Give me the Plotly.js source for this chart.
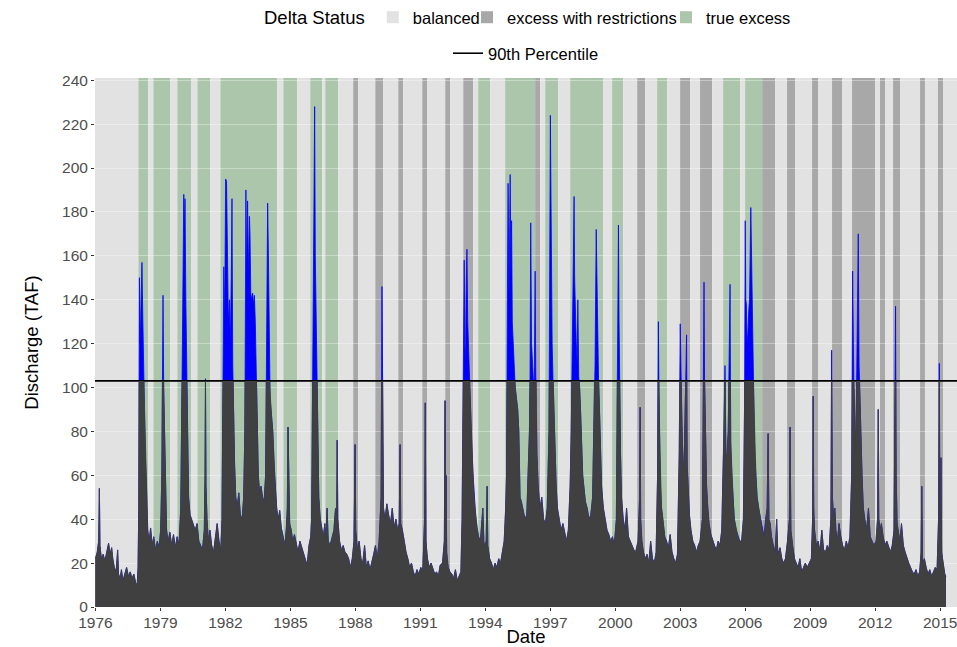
<!DOCTYPE html>
<html><head><meta charset="utf-8">
<script src="https://cdn.plot.ly/plotly-3.0.1.min.js"></script>
<style>html,body{margin:0;padding:0;background:#fff}</style>
</head><body><div id="chart" style="width:957px;height:647px"></div>
<script>
// ---- data ----
const statusNames = ['balanced', 'excess with restrictions', 'true excess'];
const statusColors = ['#e2e2e2', '#a8a8a8', '#abc6ab'];
const xStart = '1975-12-25';
const xEnd = '2015-10-12';
const pct90 = 103;
const yMax = 241;
const bandStart = ['1975-12-25','1977-12-25','1978-06-12','1978-09-05','1979-06-18','1979-10-13','1980-06-07','1980-09-16','1981-04-22','1981-10-08','1984-05-26','1984-09-04','1985-04-27','1985-12-02','1986-06-23','1986-08-12','1987-03-18','1987-11-26','1988-02-19','1988-12-03','1989-04-16','1989-12-25','1990-03-19','1991-02-03','1991-04-28','1992-02-25','1992-05-19','1992-12-25','1993-06-10','1993-09-03','1994-03-24','1994-12-01','1996-04-20','1996-07-15','1996-10-07','1997-05-15','1997-12-02','1999-06-10','1999-11-09','2000-05-14','2001-01-05','2001-05-18','2001-12-07','2002-05-25','2002-12-30','2003-06-17','2003-12-01','2004-06-22','2004-12-24','2005-10-07','2005-12-30','2006-10-13','2007-05-19','2007-12-07','2008-04-20','2009-02-01','2009-05-12','2010-01-04','2010-06-21','2010-12-07','2011-12-30','2012-03-23','2012-06-16','2012-10-29','2013-02-23','2014-01-27','2014-04-20','2014-11-25','2015-02-18'];
const bandStatus = ['balanced','true excess','balanced','true excess','balanced','true excess','balanced','true excess','balanced','true excess','balanced','true excess','balanced','true excess','balanced','true excess','balanced','excess with restrictions','balanced','excess with restrictions','balanced','excess with restrictions','balanced','excess with restrictions','balanced','excess with restrictions','balanced','excess with restrictions','balanced','true excess','balanced','true excess','excess with restrictions','balanced','true excess','balanced','true excess','balanced','true excess','balanced','excess with restrictions','balanced','true excess','balanced','excess with restrictions','balanced','excess with restrictions','balanced','true excess','balanced','true excess','excess with restrictions','balanced','excess with restrictions','balanced','excess with restrictions','balanced','excess with restrictions','balanced','excess with restrictions','balanced','excess with restrictions','balanced','excess with restrictions','balanced','excess with restrictions','balanced','excess with restrictions','balanced'];
// discharge readings (date, TAF)
const flowRecords = [
['1976-01-01',22],['1976-02-01',25],['1976-02-25',30],['1976-03-08',54],['1976-03-18',28],['1976-04-10',22],['1976-05-10',24],['1976-06-10',21],['1976-07-10',25],['1976-08-10',29],['1976-09-05',24],['1976-10-01',27],['1976-10-20',22],['1976-11-15',18],['1976-12-15',16],
['1977-01-10',26],['1977-01-25',15],['1977-02-20',13],['1977-03-15',17],['1977-04-10',12],['1977-05-10',15],['1977-06-10',18],['1977-07-10',14],['1977-08-10',16],['1977-09-10',13],['1977-10-10',15],['1977-11-10',11],['1977-12-05',10],['1977-12-20',18],
['1978-01-01',45],['1978-01-12',150],['1978-01-25',120],['1978-02-08',138],['1978-02-24',157],['1978-03-08',135],['1978-03-20',110],['1978-04-05',95],['1978-04-20',70],['1978-05-10',55],['1978-06-01',35],['1978-06-25',30],['1978-07-20',36],['1978-08-15',28],['1978-09-10',32],['1978-10-10',26],['1978-11-10',30],['1978-12-10',27],
['1979-01-05',35],['1979-01-25',60],['1979-02-05',90],['1979-02-14',142],['1979-02-25',100],['1979-03-10',80],['1979-03-25',60],['1979-04-15',35],['1979-05-10',30],['1979-06-10',34],['1979-07-10',28],['1979-08-10',33],['1979-09-10',27],['1979-10-10',32],['1979-11-10',28],['1979-12-10',45],
['1980-01-01',104],['1980-01-15',140],['1980-01-30',188],['1980-02-10',170],['1980-02-20',186],['1980-03-05',140],['1980-03-20',105],['1980-04-05',75],['1980-04-20',50],['1980-05-15',42],['1980-06-10',40],['1980-07-10',38],['1980-08-10',35],['1980-09-10',38],['1980-10-10',30],['1980-11-10',28],['1980-12-10',26],
['1981-01-10',35],['1981-01-22',60],['1981-01-30',104],['1981-02-08',55],['1981-02-25',40],['1981-03-20',30],['1981-04-15',35],['1981-05-15',28],['1981-06-15',25],['1981-07-15',32],['1981-08-15',38],['1981-09-15',30],['1981-10-15',26],['1981-11-05',40],
['1981-11-25',104],['1981-12-05',155],['1981-12-20',130],['1982-01-05',195],['1982-01-20',194],['1982-02-05',150],['1982-02-20',130],['1982-03-10',140],['1982-03-25',120],['1982-04-10',150],['1982-04-22',186],['1982-05-05',110],['1982-05-20',85],['1982-06-05',65],['1982-06-25',50],['1982-07-20',46],['1982-08-15',52],['1982-09-10',42],['1982-10-10',40],['1982-11-05',50],['1982-11-25',80],
['1982-12-05',120],['1982-12-13',190],['1982-12-25',150],['1983-01-10',185],['1983-01-25',150],['1983-02-10',178],['1983-02-20',170],['1983-03-05',143],['1983-03-20',140],['1983-04-05',143],['1983-04-20',138],['1983-05-05',142],['1983-05-20',130],['1983-06-10',104],['1983-06-25',80],['1983-07-10',60],['1983-08-01',52],['1983-08-25',55],['1983-09-20',50],['1983-10-15',48],['1983-11-10',60],['1983-12-01',120],['1983-12-08',170],['1983-12-14',184],['1983-12-25',165],
['1984-01-10',105],['1984-01-25',95],['1984-02-15',88],['1984-03-10',80],['1984-04-01',65],['1984-04-20',55],['1984-05-15',45],['1984-06-10',40],['1984-07-05',44],['1984-08-01',36],['1984-09-01',32],['1984-10-01',28],['1984-10-25',36],['1984-11-10',45],['1984-11-22',82],['1984-12-05',45],['1984-12-20',38],
['1985-01-15',35],['1985-02-10',30],['1985-03-10',33],['1985-04-10',28],['1985-05-10',25],['1985-06-10',30],['1985-07-10',27],['1985-08-10',24],['1985-09-10',22],['1985-10-10',19],['1985-11-10',28],['1985-12-10',32],['1985-12-25',40],
['1986-01-05',80],['1986-01-20',105],['1986-02-01',150],['1986-02-08',193],['1986-02-14',228],['1986-02-25',160],['1986-03-10',130],['1986-03-25',104],['1986-04-10',70],['1986-04-25',50],['1986-05-20',40],['1986-06-15',35],['1986-07-10',32],['1986-08-05',38],['1986-08-25',30],['1986-09-12',45],['1986-10-01',30],['1986-11-01',28],['1986-12-01',32],
['1987-01-05',35],['1987-02-01',45],['1987-02-20',40],['1987-03-01',76],['1987-03-12',40],['1987-04-10',30],['1987-05-10',26],['1987-06-10',28],['1987-07-10',25],['1987-08-10',24],['1987-09-10',22],['1987-10-10',18],['1987-11-10',22],['1987-12-10',30],['1987-12-28',74],
['1988-01-08',35],['1988-02-05',26],['1988-03-05',30],['1988-04-05',22],['1988-05-05',20],['1988-06-05',28],['1988-07-05',18],['1988-08-05',21],['1988-09-05',17],['1988-10-05',20],['1988-11-05',24],['1988-12-05',28],
['1989-01-05',22],['1989-02-05',30],['1989-03-10',50],['1989-03-25',146],['1989-04-05',70],['1989-04-20',45],['1989-05-15',40],['1989-06-15',47],['1989-07-15',42],['1989-08-15',38],['1989-09-15',45],['1989-10-15',36],['1989-11-15',40],['1989-12-15',35],
['1990-01-10',38],['1990-01-25',74],['1990-02-05',38],['1990-03-05',35],['1990-04-05',30],['1990-05-05',25],['1990-06-05',22],['1990-07-05',18],['1990-08-05',20],['1990-09-05',16],['1990-10-05',14],['1990-11-05',17],['1990-12-05',15],
['1991-01-10',18],['1991-02-10',16],['1991-03-15',40],['1991-03-25',93],['1991-04-05',30],['1991-05-01',22],['1991-06-01',18],['1991-07-01',20],['1991-08-01',17],['1991-09-01',15],['1991-10-01',16],['1991-11-01',14],['1991-12-01',19],
['1992-01-10',20],['1992-02-10',30],['1992-02-22',94],['1992-03-01',40],['1992-03-10',60],['1992-03-20',25],['1992-04-15',18],['1992-05-15',16],['1992-06-15',15],['1992-07-15',13],['1992-08-15',17],['1992-09-15',12],['1992-10-15',14],['1992-11-15',16],['1992-12-05',40],
['1992-12-20',104],['1993-01-10',158],['1993-01-20',120],['1993-02-01',110],['1993-02-10',140],['1993-02-25',163],['1993-03-10',130],['1993-03-25',115],['1993-04-10',104],['1993-04-25',90],['1993-05-15',75],['1993-06-05',62],['1993-06-25',50],['1993-07-20',42],['1993-08-15',36],['1993-09-10',32],['1993-10-10',30],['1993-11-01',38],['1993-11-20',45],['1993-12-10',28],
['1994-01-15',30],['1994-02-01',55],['1994-02-12',28],['1994-03-15',22],['1994-04-15',20],['1994-05-15',17],['1994-06-15',20],['1994-07-15',18],['1994-08-15',22],['1994-09-15',20],['1994-10-15',25],['1994-11-15',30],['1994-12-10',45],['1994-12-25',60],
['1995-01-10',150],['1995-01-20',193],['1995-02-05',140],['1995-02-24',197],['1995-03-10',150],['1995-03-20',176],['1995-04-01',130],['1995-04-15',120],['1995-05-01',105],['1995-05-20',100],['1995-06-10',95],['1995-07-01',90],['1995-07-20',80],['1995-08-10',50],['1995-09-01',48],['1995-10-01',44],['1995-11-01',40],['1995-12-01',42],['1995-12-20',55],
['1996-01-15',80],['1996-01-25',104],['1996-02-06',175],['1996-02-20',120],['1996-03-05',110],['1996-03-20',104],['1996-04-05',100],['1996-04-20',153],['1996-05-01',105],['1996-05-20',70],['1996-06-10',55],['1996-07-10',45],['1996-08-10',50],['1996-09-10',40],['1996-10-10',38],['1996-11-10',45],['1996-12-10',80],['1996-12-25',170],
['1997-01-02',224],['1997-01-10',195],['1997-01-20',150],['1997-02-01',120],['1997-02-15',104],['1997-03-01',90],['1997-03-20',70],['1997-04-10',55],['1997-05-01',45],['1997-06-01',40],['1997-07-01',35],['1997-08-01',38],['1997-09-01',33],['1997-10-01',30],['1997-11-01',35],['1997-12-01',55],['1997-12-20',80],
['1998-01-10',120],['1998-01-20',157],['1998-02-06',187],['1998-02-15',150],['1998-02-28',130],['1998-03-15',120],['1998-03-30',110],['1998-04-10',140],['1998-04-25',105],['1998-05-10',100],['1998-05-25',90],['1998-06-10',75],['1998-07-01',60],['1998-07-20',55],['1998-08-15',48],['1998-09-15',45],['1998-10-15',40],['1998-11-15',42],['1998-12-15',50],
['1999-01-10',90],['1999-01-25',110],['1999-02-14',172],['1999-02-25',150],['1999-03-10',120],['1999-03-25',104],['1999-04-10',90],['1999-04-25',70],['1999-05-15',55],['1999-06-15',45],['1999-07-15',40],['1999-08-15',35],['1999-09-15',33],['1999-10-15',30],['1999-11-15',32],['1999-12-15',28],
['2000-01-20',40],['2000-02-10',100],['2000-02-24',174],['2000-03-05',130],['2000-03-15',90],['2000-03-30',70],['2000-04-15',50],['2000-05-15',40],['2000-06-15',35],['2000-07-10',45],['2000-08-10',32],['2000-09-10',30],['2000-10-10',28],['2000-11-10',26],['2000-12-10',25],
['2001-01-20',30],['2001-02-15',50],['2001-02-24',91],['2001-03-05',40],['2001-03-25',30],['2001-04-20',25],['2001-05-20',22],['2001-06-20',24],['2001-07-20',20],['2001-08-20',30],['2001-09-20',22],['2001-10-20',20],['2001-11-20',25],['2001-12-15',60],
['2001-12-28',130],['2002-01-05',104],['2002-01-15',80],['2002-02-01',55],['2002-02-20',45],['2002-03-15',40],['2002-04-15',32],['2002-05-15',30],['2002-06-15',27],['2002-07-15',33],['2002-08-15',25],['2002-09-15',22],['2002-10-15',20],['2002-11-15',24],['2002-12-15',70],
['2003-01-01',129],['2003-01-10',104],['2003-01-25',90],['2003-02-10',70],['2003-02-25',60],['2003-03-15',75],['2003-04-18',124],['2003-04-28',65],['2003-05-15',50],['2003-06-05',42],['2003-07-01',35],['2003-08-01',30],['2003-09-01',28],['2003-10-01',25],['2003-11-01',28],['2003-12-01',30],
['2004-01-10',40],['2004-01-28',90],['2004-02-06',148],['2004-02-15',104],['2004-03-01',70],['2004-03-20',55],['2004-04-10',45],['2004-05-01',38],['2004-06-01',33],['2004-07-01',30],['2004-08-01',28],['2004-09-01',26],['2004-10-01',30],['2004-11-01',28],['2004-12-01',35],
['2004-12-25',65],['2005-01-05',75],['2005-01-25',110],['2005-02-10',68],['2005-03-01',70],['2005-03-20',80],['2005-04-20',147],['2005-05-01',75],['2005-05-20',60],['2005-06-10',50],['2005-07-01',40],['2005-08-01',35],['2005-09-01',32],['2005-10-01',30],['2005-11-01',30],['2005-12-01',40],
['2005-12-20',90],['2006-01-01',176],['2006-01-10',140],['2006-01-20',138],['2006-02-01',120],['2006-02-15',125],['2006-03-01',135],['2006-03-15',140],['2006-04-05',182],['2006-04-15',160],['2006-04-28',140],['2006-05-10',110],['2006-05-25',95],['2006-06-10',70],['2006-06-30',60],['2006-07-20',50],['2006-08-15',45],['2006-09-15',40],['2006-10-15',35],['2006-11-15',32],['2006-12-10',40],
['2007-01-05',45],['2007-01-22',79],['2007-02-05',40],['2007-02-25',38],['2007-03-20',32],['2007-04-20',28],['2007-05-20',25],['2007-06-15',40],['2007-07-05',24],['2007-08-10',27],['2007-09-10',22],['2007-10-10',20],['2007-11-10',22],['2007-12-15',30],
['2008-01-15',40],['2008-01-27',82],['2008-02-10',35],['2008-03-10',28],['2008-04-10',22],['2008-05-10',20],['2008-06-10',18],['2008-07-10',22],['2008-08-10',16],['2008-09-10',18],['2008-10-10',20],['2008-11-10',18],['2008-12-10',20],
['2009-01-20',22],['2009-02-10',40],['2009-02-20',96],['2009-03-01',45],['2009-03-15',35],['2009-04-15',28],['2009-05-15',30],['2009-06-15',25],['2009-07-15',35],['2009-08-15',26],['2009-09-15',25],['2009-10-15',28],['2009-11-15',26],['2009-12-15',40],
['2009-12-28',117],['2010-01-10',50],['2010-02-01',40],['2010-02-20',45],['2010-03-10',35],['2010-04-05',30],['2010-05-01',38],['2010-06-01',32],['2010-07-01',28],['2010-08-01',26],['2010-09-01',30],['2010-10-01',27],['2010-11-01',32],['2010-12-01',60],
['2010-12-17',153],['2011-01-05',104],['2011-01-20',80],['2011-02-05',70],['2011-02-20',95],['2011-03-05',120],['2011-03-22',170],['2011-04-05',110],['2011-04-20',85],['2011-05-05',80],['2011-05-25',60],['2011-06-15',45],['2011-07-10',40],['2011-08-10',35],['2011-09-10',45],['2011-10-10',32],['2011-11-10',30],['2011-12-10',28],
['2012-01-15',30],['2012-02-10',40],['2012-02-22',90],['2012-03-05',40],['2012-03-25',35],['2012-04-15',38],['2012-05-15',32],['2012-06-15',28],['2012-07-15',30],['2012-08-15',27],['2012-09-15',25],['2012-10-15',28],['2012-11-15',35],['2012-12-10',137],['2012-12-20',60],
['2013-01-05',38],['2013-01-25',35],['2013-02-20',30],['2013-03-20',38],['2013-04-20',28],['2013-05-20',25],['2013-06-20',22],['2013-07-20',20],['2013-08-20',18],['2013-09-20',16],['2013-10-20',15],['2013-11-20',17],['2013-12-20',14],
['2014-01-20',16],['2014-02-15',25],['2014-02-25',55],['2014-03-10',20],['2014-04-10',22],['2014-05-10',18],['2014-06-10',15],['2014-07-10',17],['2014-08-10',14],['2014-09-10',16],['2014-10-10',18],['2014-11-10',17],['2014-12-05',40],['2014-12-18',111],['2014-12-28',35],
['2015-01-15',68],['2015-01-25',25],['2015-02-10',22],['2015-03-01',18],['2015-03-20',15],['2015-04-08',14]
];
const obsDates = flowRecords.map(r => r[0]);
const obsTAF = flowRecords.map(r => r[1]);

// ---- chart ----
const FONT = 'Liberation Sans, Arial, Helvetica, sans-serif';
const colorOf = s => statusColors[statusNames.indexOf(s)];

const shapes = bandStart.map((d, i) => ({
  type: 'rect', xref: 'x', yref: 'paper', layer: 'below',
  x0: d, x1: i + 1 < bandStart.length ? bandStart[i + 1] : xEnd,
  y0: 0, y1: 1, fillcolor: colorOf(bandStatus[i]), line: {width: 0}
}));

const legendIds = ['legend', 'legend3', 'legend4'];
const traces = [];
statusNames.forEach((s, i) => traces.push({
  type: 'bar', x: [null], y: [null], name: s, legend: legendIds[i],
  marker: {color: statusColors[i], line: {width: 0}}, hoverinfo: 'skip'
}));
// full series in blue (only the part above the 90th percentile stays visible)
traces.push({
  type: 'scatter', mode: 'lines', x: obsDates, y: obsTAF, fill: 'tozeroy',
  fillcolor: '#0000ff', line: {color: '#0000ff', width: 0.8},
  xaxis: 'x', yaxis: 'y', showlegend: false, hoverinfo: 'skip'
});
// same series in dark grey on an axis clipped at the 90th percentile
traces.push({
  type: 'scatter', mode: 'lines', x: obsDates, y: obsTAF, fill: 'tozeroy',
  fillcolor: '#404040', line: {color: '#404040', width: 0.8},
  xaxis: 'x', yaxis: 'y2', showlegend: false, hoverinfo: 'skip'
});
traces.push({
  type: 'scatter', mode: 'lines', x: [xStart, xEnd], y: [pct90, pct90],
  name: '90th Percentile', legend: 'legend2',
  line: {color: '#000000', width: 1.6}, xaxis: 'x', yaxis: 'y3', hoverinfo: 'skip'
});

const legBase = {
  orientation: 'h', xref: 'container', yref: 'container', xanchor: 'left', yanchor: 'top',
  font: {size: 16.5, family: FONT, color: '#000'}, itemwidth: 30, bgcolor: 'rgba(0,0,0,0)'
};
const layout = {
  width: 957, height: 647,
  margin: {l: 95, r: 0, t: 78, b: 40},
  paper_bgcolor: '#ffffff', plot_bgcolor: 'rgba(0,0,0,0)',
  font: {family: FONT, color: '#000'},
  shapes: shapes,
  showlegend: true,
  xaxis: {
    type: 'date', range: [xStart, xEnd], anchor: 'y',
    tick0: '1976-01-01', dtick: 'M36', tickformat: '%Y',
    ticks: 'outside', ticklen: 3, tickcolor: '#333333', tickwidth: 1,
    ticklabelstandoff: -2, ticklabeloverflow: 'allow',
    tickfont: {size: 15.5, color: '#4d4d4d', family: FONT},
    showgrid: false, zeroline: false, showline: false,
    title: {text: 'Date', standoff: 4, font: {size: 18.5, color: '#000', family: FONT}}
  },
  yaxis: {
    range: [0, yMax], domain: [0, 1], dtick: 20, tick0: 0,
    ticks: 'outside', ticklen: 3, tickcolor: '#333333', tickwidth: 1,
    tickfont: {size: 15.5, color: '#4d4d4d', family: FONT},
    showgrid: true, gridcolor: 'rgba(255,255,255,0.35)', gridwidth: 1,
    zeroline: false, showline: false,
    title: {text: 'Discharge (TAF)', standoff: 18, font: {size: 18.5, color: '#000', family: FONT}}
  },
  yaxis2: {domain: [0, pct90 / yMax], range: [0, pct90], anchor: 'x', visible: false, showgrid: false, zeroline: false},
  yaxis3: {overlaying: 'y', range: [0, yMax], anchor: 'x', visible: false, showgrid: false, zeroline: false},
  legend: Object.assign({}, legBase, {
    x: 262 / 957, y: 1.0,
    title: {text: 'Delta Status', side: 'left', font: {size: 18.5, family: FONT, color: '#000'}}
  }),
  legend3: Object.assign({}, legBase, {x: 467 / 957, y: 1.0}),
  legend4: Object.assign({}, legBase, {x: 666 / 957, y: 1.0}),
  legend2: Object.assign({}, legBase, {x: 448 / 957, y: 1 - 36 / 647})
};

Plotly.newPlot('chart', traces, layout, {displayModeBar: false, staticPlot: true});
</script>
</body></html>
